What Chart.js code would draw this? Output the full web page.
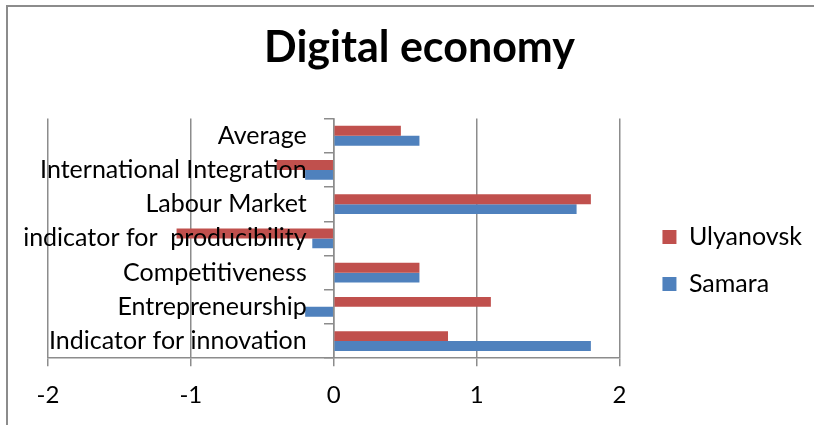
<!DOCTYPE html>
<html>
<head>
<meta charset="utf-8">
<script src="https://cdn.jsdelivr.net/npm/chart.js@4.4.9/dist/chart.umd.min.js"></script>
<style>
  html, body { margin: 0; padding: 0; background: #fff; overflow: hidden; }
  #wrap { position: relative; width: 814px; height: 425px; overflow: hidden; }
  #frame { position: absolute; left: 6px; top: 5px; width: 806px; height: 418px;
           border-left: 2px solid #8c8c8c; border-top: 2px solid #8c8c8c; }
  canvas { position: absolute; left: 0; top: 0; }
</style>
</head>
<body>
<div id="wrap">
  <div id="frame"></div>
  <canvas id="chart" width="814" height="425"></canvas>
</div>
<script>
/* data */
const categories = [
  'Average',
  'International Integration',
  'Labour Market',
  'indicator for  producibility',
  'Competitiveness',
  'Entrepreneurship',
  'Indicator for innovation'
];
const ulyanovsk = [0.47, -0.4, 1.8, -1.1, 0.6, 1.1, 0.8];
const samara    = [0.6, -0.2, 1.7, -0.15, 0.6, -0.2, 1.8];
const xTicks    = [-2, -1, 0, 1, 2];

const FONT = 'Lato, "Noto Sans", sans-serif';
const GRID = '#8c8c8c';

// small placement tweaks: category labels sit a bit left of the zero axis,
// legend sits right of the plot and lower down
const tweaks = {
  id: 'tweaks',
  afterLayout(chart) {
    const lg = chart.legend;
    lg.left += 21; lg.right += 21;
    lg.top += 48;  lg.bottom += 48;
  },
  beforeDraw(chart) {
    chart.scales.y.getLabelItems().forEach(it => { it.options.translation[0] -= 27; });
  }
};

new Chart(document.getElementById('chart'), {
  type: 'bar',
  data: {
    labels: categories,
    datasets: [
      { label: 'Ulyanovsk', data: ulyanovsk, backgroundColor: '#C0504D' },
      { label: 'Samara',    data: samara,    backgroundColor: '#4F81BD' }
    ]
  },
  options: {
    indexAxis: 'y',
    responsive: false,
    animation: false,
    categoryPercentage: 0.58,
    barPercentage: 1,
    layout: { padding: { left: 48, right: 23, bottom: 0 } },
    scales: {
      x: {
        min: -2, max: 2,
        afterBuildTicks: s => { s.ticks = xTicks.map(v => ({ value: v })); },
        grid: { color: GRID, lineWidth: 1.5, tickLength: 8 },
        border: { color: GRID, width: 1.5 },
        ticks: { color: '#000', font: { family: FONT, size: 24 }, padding: 15 }
      },
      y: {
        position: { x: 0 },
        grid: { drawOnChartArea: false, color: GRID, lineWidth: 1.5, tickLength: 9, offset: true },
        border: { color: GRID, width: 1.5 },
        ticks: { color: '#000', font: { family: FONT, size: 25 }, autoSkip: false, z: 1 }
      }
    },
    plugins: {
      title: {
        display: true,
        text: 'Digital economy',
        color: '#000',
        font: { family: FONT, size: 43, weight: 'bold' },
        padding: { top: 22, bottom: 45 }
      },
      legend: {
        position: 'right',
        labels: {
          color: '#000',
          font: { family: FONT, size: 25 },
          boxWidth: 14, boxHeight: 14,
          padding: 22
        }
      },
      tooltip: { enabled: false }
    }
  },
  plugins: [tweaks]
});
</script>
</body>
</html>
